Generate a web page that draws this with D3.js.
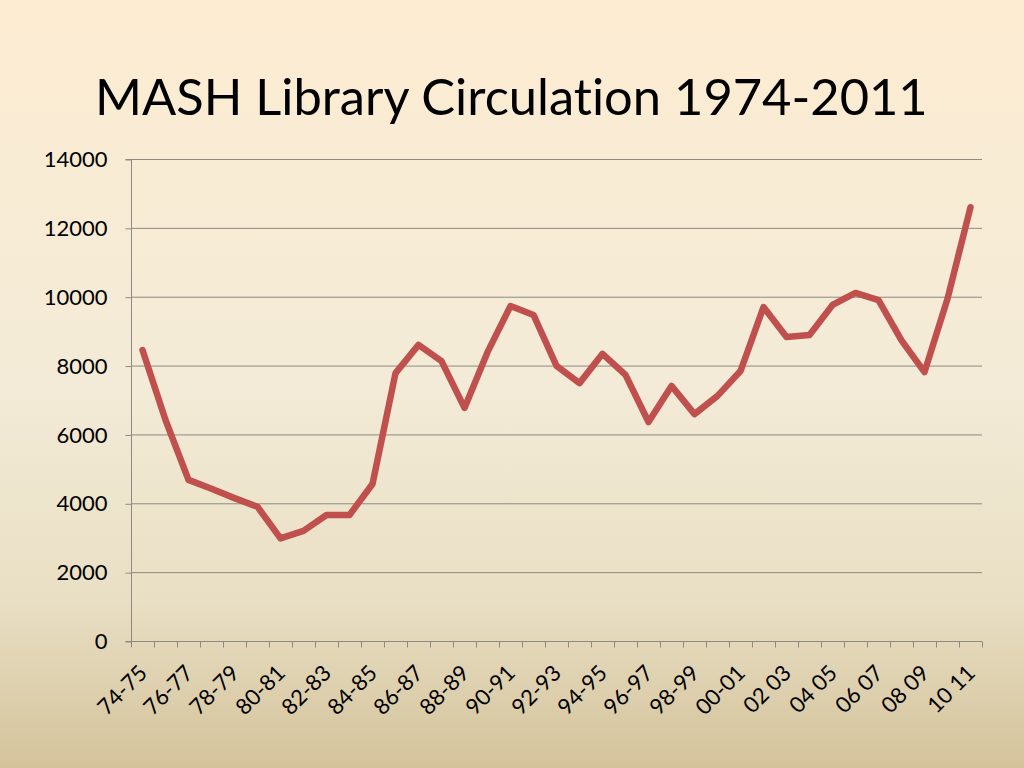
<!DOCTYPE html>
<html><head><meta charset="utf-8">
<script src="https://cdn.jsdelivr.net/npm/d3@7"></script>
<style>html,body{margin:0;padding:0;overflow:hidden;}svg{display:block;}text{font-variant-ligatures:none;}</style>
</head><body>
<svg id="c" width="1024" height="768"></svg>
<script>
const categories = ["74-75","75-76","76-77","77-78","78-79","79-80","80-81","81-82","82-83","83-84","84-85","85-86","86-87","87-88","88-89","89-90","90-91","91-92","92-93","93-94","94-95","95-96","96-97","97-98","98-99","99-00","00-01","01 02","02 03","03 04","04 05","05 06","06 07","07 08","08 09","09 10","10 11"];
const circulation = [8450,6420,4680,4420,4150,3900,2980,3200,3660,3660,4560,7780,8600,8130,6770,8390,9730,9470,7990,7490,8340,7730,6360,7410,6590,7120,7840,9700,8830,8890,9760,10110,9900,8730,7810,9940,12600];
const yTicks = [0,2000,4000,6000,8000,10000,12000,14000];
const title = "MASH Library Circulation 1974-2011";

const svg = d3.select("#c");
const W=1024,H=768;
const defs = svg.append("defs");
const g = defs.append("linearGradient").attr("id","bg").attr("x1",0).attr("y1",0).attr("x2",0).attr("y2",1);
[[0,"#fdecd2"],[0.5,"#f3ebd7"],[0.78,"#e9dfc4"],[1,"#d4c39b"]].forEach(s=>g.append("stop").attr("offset",s[0]).attr("stop-color",s[1]));
svg.append("rect").attr("width",W).attr("height",H).attr("fill","url(#bg)");

const font = "Lato, 'Open Sans', sans-serif";
const pL=131,pR=982,pT=159,pB=641;
const x = d3.scaleBand().domain(categories).range([pL,pR]).padding(0);
const y = d3.scaleLinear().domain([0,14000]).range([pB,pT]);

// title
const t = svg.append("text").attr("x",95).attr("y",115).attr("font-family",font).attr("font-size",46).attr("fill","#000").text(title);
const tl = t.node().getComputedTextLength();
t.attr("font-size", 46*833/tl);

// grid
svg.append("g").selectAll("line").data(yTicks.filter(d=>d>0)).join("line")
  .attr("x1",pL).attr("x2",pR).attr("y1",d=>y(d)+0.5).attr("y2",d=>y(d)+0.5)
  .attr("stroke","#8e8a80").attr("stroke-width",1);

// y axis
const ya = svg.append("g").attr("transform",`translate(${pL+0.5},0)`).call(d3.axisLeft(y).tickValues(yTicks).tickSize(6).tickPadding(18).tickFormat(d3.format("d")));
ya.select(".domain").attr("stroke","#8e8a80").attr("d",`M-6,${pB+0.5}H0V${pT+0.5}H-6`);
ya.selectAll(".tick line").attr("stroke","#8e8a80").attr("transform","translate(0,0.5)");
ya.selectAll("text").attr("font-family",font).attr("font-size",22).attr("fill","#000").attr("dy","0.35em");

// x axis
const xa = svg.append("g").attr("transform",`translate(0,${pB+0.5})`);
xa.append("line").attr("x1",pL).attr("x2",pR).attr("stroke","#8e8a80");
const bounds = categories.map(c=>x(c)).concat([pR]);
xa.selectAll("line.tk").data(bounds).join("line").attr("class","tk")
  .attr("x1",d=>Math.round(d)+0.5).attr("x2",d=>Math.round(d)+0.5).attr("y1",0).attr("y2",6).attr("stroke","#8e8a80");
xa.selectAll("text").data(categories.filter((c,i)=>i%2===0)).join("text")
  .attr("transform",d=>`translate(${x(d)+x.bandwidth()/2+6},${33}) rotate(-45)`)
  .attr("text-anchor","end").attr("font-family",font).attr("font-size",22).attr("fill","#000").text(d=>d);

// line
const line = d3.line().x((d,i)=>x(categories[i])+x.bandwidth()/2).y(d=>y(d));
svg.append("path").datum(circulation).attr("d",line).attr("fill","none")
  .attr("stroke","#c0504d").attr("stroke-width",6.5).attr("stroke-linejoin","round").attr("stroke-linecap","round");
</script>
</body></html>
